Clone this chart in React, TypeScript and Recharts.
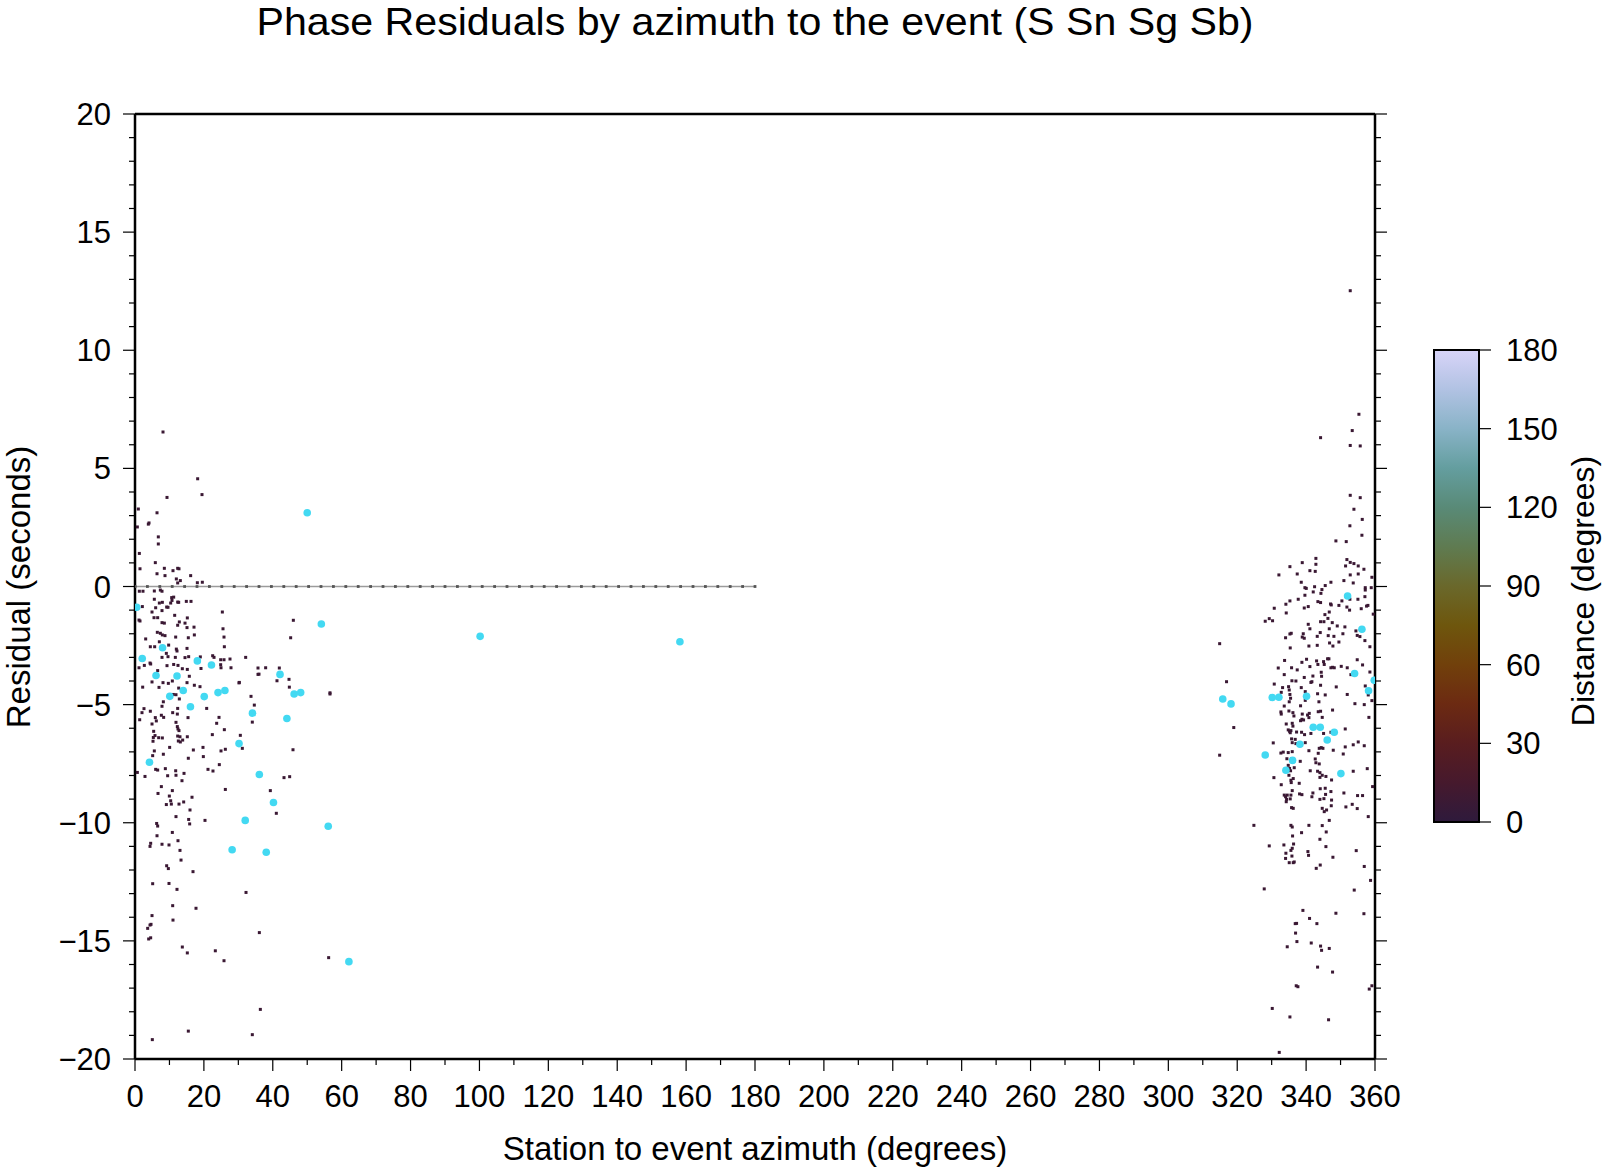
import React from "react";
import { ScatterChart, Scatter, XAxis, YAxis, ReferenceLine } from "recharts";

const FONT = '"Liberation Sans", Arial, Helvetica, sans-serif';
const DARK = "#3a1833";
const CYAN = "#43d9f2";

// axis ticks
const xMajorTicks = [0, 20, 40, 60, 80, 100, 120, 140, 160, 180, 200, 220, 240, 260, 280, 300, 320, 340, 360];
const xTicks = Array.from({ length: 37 }, (_, i) => i * 10);
const yMajorTicks = [-20, -15, -10, -5, 0, 5, 10, 15, 20];
const yTicks = Array.from({ length: 41 }, (_, i) => i - 20);
const cbarTicks = [0, 30, 60, 90, 120, 150, 180];

// colour scale of the distance bar
const cbarStops: [number, string][] = [
  [0, "#2e1a3c"], [15, "#46192d"], [30, "#591d1f"], [45, "#6c2a12"], [60, "#71400b"],
  [75, "#6e560d"], [90, "#6a682b"], [105, "#5f7b51"], [120, "#598a77"], [135, "#649e9f"],
  [150, "#89b3c7"], [165, "#b1c2e3"], [180, "#d8d4f8"],
];

// reference line marks at zero residual
const zeroLineAz = [
  0, 3.6, 7.2, 10.8, 14.4, 18, 21.6, 25.2, 28.8, 32.4, 36, 39.6, 43.2, 46.8, 50.4, 54, 57.6,
  61.2, 64.8, 68.4, 72, 75.6, 79.2, 82.8, 86.4, 90, 93.6, 97.2, 100.8, 104.4, 108, 111.6, 115.2,
  118.8, 122.4, 126, 129.6, 133.2, 136.8, 140.4, 144, 147.6, 151.2, 154.8, 158.4, 162, 165.6,
  169.2, 172.8, 176.4, 180,
];

// [azimuth, residual] for the near stations, west of north
const darkLeft: [number, number][] = [
  [8.13, 6.54], [18.19, 4.56], [19.45, 3.89], [9.29, 3.77], [0.97, 3.28], [6.39, 3.12], [0.68, 2.52],
  [4.07, 2.69], [3.87, 2.64], [6.77, 2.1], [6.77, 1.8], [1.26, 1.4], [1.45, 0.75], [5.9, 1.01],
  [8.52, 0.77], [11.03, 0.67], [12.39, 0.77], [12.77, 0.75], [6.39, 0.54], [8.71, 0.46], [12.0, 0.32],
  [12.39, 0.15], [16.16, 0.46], [18.1, 0.16], [19.55, 0.18], [13.16, 0.25],
  [1.26, -0.2], [2.32, -0.2], [5.61, -0.19], [7.36, -0.15], [7.84, -0.2], [5.61, -0.54], [7.07, -0.7],
  [7.94, -0.67], [10.65, -0.47], [11.23, -0.45], [10.74, -0.59], [10.36, -0.7], [12.39, -0.66],
  [12.68, -0.67], [9.19, -0.87], [9.58, -0.88], [7.84, -1.02], [14.9, -0.63], [16.26, -0.63],
  [2.13, -0.85], [6.0, -0.9], [11.52, -1.22], [4.94, -1.08], [5.52, -1.32], [6.58, -1.32],
  [1.16, -1.42], [1.45, -1.46], [12.87, -1.5], [15.19, -1.33], [12.39, -1.64], [7.84, -1.53],
  [8.52, -1.55], [14.52, -1.55], [17.13, -1.72], [15.1, -1.74], [25.36, -1.08], [25.55, -1.79],
  [25.84, -2.14], [25.94, -2.55], [17.23, -2.05], [15.48, -2.17], [11.81, -2.14], [6.48, -1.94],
  [7.36, -1.98], [7.94, -2.05], [8.71, -2.08], [3.1, -2.22], [4.45, -2.55], [5.71, -2.55],
  [7.07, -2.34], [9.77, -2.48], [12.0, -2.65], [12.19, -2.73], [15.1, -2.62], [9.1, -2.83],
  [7.84, -3.0], [9.58, -2.97], [11.71, -3.0], [14.52, -3.01], [15.58, -2.97], [18.97, -2.98],
  [22.55, -2.93], [22.94, -3.0], [32.13, -3.0], [24.87, -3.1], [25.84, -3.1], [27.58, -3.07],
  [1.16, -3.44], [2.71, -3.34], [4.36, -3.24], [4.55, -3.28], [6.58, -3.56], [9.29, -3.35],
  [11.23, -3.3], [12.48, -3.34], [13.74, -3.48], [15.19, -3.51], [19.16, -3.47], [24.87, -3.31],
  [24.97, -3.44], [27.87, -3.44], [35.71, -3.45], [37.93, -3.44], [41.9, -3.45], [35.71, -3.72],
  [36.0, -3.71], [41.22, -3.99], [44.71, -3.93], [44.81, -4.26], [30.19, -4.08], [45.97, -1.43],
  [45.19, -2.17], [56.61, -4.5], [56.61, -4.55], [33.68, -4.65], [2.23, -4.26], [4.94, -4.04],
  [6.97, -4.27], [8.13, -4.07], [9.68, -4.1], [10.84, -4.0], [12.68, -4.3], [15.77, -3.8],
  [15.1, -4.07], [17.23, -4.18], [18.87, -4.24], [11.13, -4.57], [11.9, -4.58], [12.87, -4.76],
  [1.36, -5.64], [2.03, -5.34], [2.61, -5.17], [4.45, -5.28], [4.94, -5.82], [5.9, -5.55],
  [6.19, -5.69], [5.42, -6.13], [5.81, -6.31], [5.23, -6.55], [5.32, -6.39], [6.87, -6.4],
  [7.94, -6.41], [8.23, -4.88], [7.84, -5.07], [7.65, -5.45], [8.32, -5.54], [10.94, -5.34],
  [12.39, -5.16], [12.29, -5.4], [11.9, -5.75], [12.29, -5.93], [12.48, -6.03], [12.77, -6.1],
  [12.39, -6.33], [13.06, -6.36], [12.58, -6.54], [13.16, -6.58], [13.84, -6.5], [15.39, -5.55],
  [15.19, -6.36], [15.48, -7.27], [10.06, -6.81], [9.48, -8.01], [8.81, -7.71], [6.0, -7.74],
  [6.58, -7.77], [5.61, -6.96], [5.13, -7.16], [8.23, -7.1], [0.68, -7.87], [2.9, -8.04],
  [11.81, -7.8], [11.9, -7.99], [14.23, -7.91], [13.64, -8.22], [7.65, -8.47], [6.68, -8.76],
  [10.84, -8.64], [9.97, -8.87], [10.36, -9.07], [10.55, -9.21], [9.1, -9.23], [12.77, -9.21],
  [14.13, -9.12], [16.55, -8.92], [15.97, -9.46], [11.9, -9.74], [15.58, -9.86], [15.87, -10.05],
  [20.32, -9.9], [16.94, -6.92], [19.74, -6.81], [19.84, -7.2], [20.81, -5.16], [22.45, -6.27],
  [21.19, -7.74], [22.64, -7.81], [24.48, -7.54], [24.97, -6.96], [26.23, -6.89], [24.39, -5.54],
  [23.71, -5.79], [25.94, -6.06], [26.23, -8.59], [30.58, -6.3], [31.16, -6.85], [34.64, -5.02],
  [34.06, -5.74], [39.29, -8.64], [41.03, -9.6], [43.26, -8.09], [44.9, -8.05], [45.87, -6.91],
  [6.29, -10.03], [6.58, -10.14], [6.39, -10.55], [7.84, -10.91], [9.87, -10.94], [10.84, -10.41],
  [12.48, -10.76], [13.06, -11.17], [13.36, -11.58], [4.55, -10.87], [4.36, -11.0], [9.19, -11.82],
  [9.68, -11.94], [5.13, -12.58], [9.87, -12.57], [12.19, -12.82], [16.84, -12.07], [10.94, -13.51],
  [11.03, -14.12], [4.94, -13.93], [4.65, -14.3], [4.36, -14.33], [3.68, -14.47], [3.97, -14.92],
  [4.55, -14.87], [17.71, -13.62], [13.74, -15.26], [15.19, -15.51], [23.32, -15.42], [25.84, -15.84],
  [32.23, -12.95], [36.1, -14.65], [56.22, -15.71], [36.39, -17.9], [34.06, -18.97], [15.48, -18.82],
  [5.03, -19.18], [30.29, -4.06],
];

// [azimuth, residual] for the near stations, east of north
const darkRight: [number, number][] = [
  [352.81, 12.52], [355.33, 7.29], [353.39, 6.6], [344.2, 6.3], [352.81, 5.97], [355.71, 5.95],
  [352.81, 3.86], [355.71, 3.76], [353.88, 3.27], [356.3, 2.84], [352.71, 2.57], [356.2, 2.17],
  [348.65, 1.93], [351.65, 1.9], [342.84, 1.19], [338.88, 1.01], [342.84, 0.94], [335.3, 0.84],
  [351.84, 1.14], [351.46, 0.87], [352.81, 1.02], [353.88, 0.97], [355.13, 0.87], [356.78, 0.73],
  [341.1, 0.67], [342.65, 0.64], [332.1, 0.49], [337.42, 0.53], [352.81, 0.49], [355.13, 0.53],
  [359.1, 0.39], [338.59, 0.18], [347.2, 0.18], [350.97, 0.25], [353.68, 0.15], [345.55, 0.04],
  [357.17, -0.05], [357.17, -0.15], [358.91, -0.05], [339.65, -0.05], [340.04, -0.08], [342.46, -0.01],
  [344.59, -0.13], [344.3, -0.29], [342.07, -0.23], [339.65, -0.37], [334.13, -0.75], [335.3, -0.61],
  [337.71, -0.54], [343.42, -0.64], [344.2, -0.68], [347.1, -0.74], [347.3, -0.78], [349.52, -0.8],
  [350.39, -0.61], [352.71, -0.54], [351.84, -0.87], [352.62, -1.0], [355.04, -0.54], [357.07, -0.43],
  [356.0, -0.94], [357.55, -0.83], [357.94, -0.8], [330.75, -0.92], [339.46, -0.91], [340.62, -0.85],
  [346.72, -1.08], [345.46, -1.19], [346.33, -1.35], [359.49, -1.17], [334.23, -1.12], [328.13, -1.47],
  [329.3, -1.36], [330.26, -1.45], [340.62, -1.6], [341.1, -1.79], [344.2, -1.49], [345.17, -1.49],
  [347.59, -1.53], [349.04, -1.67], [351.26, -1.71], [346.72, -1.79], [335.3, -2.01], [335.68, -1.98],
  [334.04, -2.17], [339.17, -2.0], [338.88, -2.14], [339.46, -2.19], [343.23, -2.11], [344.1, -1.95],
  [346.42, -2.08], [348.07, -2.11], [350.68, -2.0], [354.46, -1.88], [354.84, -2.07], [355.62, -2.12],
  [357.07, -2.29], [358.52, -2.55], [349.52, -2.35], [335.39, -2.6], [340.81, -2.52], [343.23, -2.49],
  [346.81, -2.39], [347.78, -2.52],
  [333.75, -3.13], [331.91, -3.45], [335.78, -3.44], [333.65, -3.73], [337.42, -3.53], [338.78, -3.21],
  [340.13, -3.08], [341.1, -3.39], [343.04, -3.15], [343.42, -3.3], [345.07, -3.18], [345.26, -3.3],
  [346.23, -3.06], [346.62, -3.06], [344.39, -3.63], [344.49, -3.8], [341.97, -3.79], [341.68, -4.03],
  [339.46, -3.85], [347.2, -3.44], [347.68, -3.42], [348.17, -3.44], [350.2, -3.38], [351.94, -3.44],
  [353.0, -3.73], [354.84, -3.1], [356.39, -3.32], [358.52, -3.62], [348.75, -4.25], [351.94, -4.57],
  [357.17, -4.21], [330.75, -4.13], [333.17, -4.28], [332.78, -4.48], [334.91, -4.24], [335.1, -4.38],
  [335.3, -4.57], [335.88, -3.99], [337.04, -4.0], [338.59, -4.28], [339.75, -4.45], [341.39, -4.06],
  [344.2, -4.18], [345.55, -4.59], [343.33, -4.54], [343.72, -4.88], [335.49, -4.73], [335.1, -4.88],
  [333.65, -5.06], [338.39, -5.05], [339.75, -4.82], [354.17, -4.96], [356.88, -5.0], [358.04, -4.59],
  [359.1, -4.83],
  [332.68, -5.31], [332.78, -5.4], [335.01, -5.27], [336.17, -5.34], [336.46, -5.48], [338.88, -5.4],
  [338.78, -5.62], [340.42, -5.44], [340.91, -5.37], [340.81, -5.55], [343.52, -5.3], [344.2, -5.28],
  [344.68, -5.54], [347.68, -5.23], [338.39, -5.68], [339.26, -5.65], [334.23, -5.82], [335.97, -5.79],
  [336.17, -5.91], [334.81, -6.07], [335.2, -6.13], [335.59, -6.1], [335.39, -6.19], [337.23, -6.16],
  [338.68, -6.17], [339.55, -6.27], [341.39, -6.22], [345.07, -6.22], [347.2, -6.17], [351.36, -6.03],
  [335.78, -6.45], [335.97, -6.61], [336.84, -6.47], [337.04, -6.65], [330.46, -6.62], [339.75, -6.61],
  [343.81, -6.85], [344.39, -6.82], [344.88, -6.85], [340.81, -6.95], [347.88, -6.93], [351.36, -6.79],
  [353.68, -6.7], [355.13, -6.58], [356.88, -6.74], [332.68, -7.05], [333.36, -7.01], [334.81, -7.03],
  [335.97, -6.99], [334.42, -7.29], [335.78, -7.29], [338.3, -7.4], [342.84, -7.46], [342.65, -7.3],
  [343.81, -7.51], [343.52, -7.06], [350.78, -7.09], [334.81, -7.57], [335.2, -7.7], [336.55, -7.67],
  [335.49, -7.8], [335.01, -7.99], [341.2, -7.8], [343.33, -7.82], [344.01, -7.88], [344.68, -7.99],
  [344.01, -8.08], [345.75, -8.04], [347.39, -8.19], [353.68, -7.82], [357.75, -7.71], [330.65, -8.09],
  [335.59, -8.2], [335.68, -8.3], [336.26, -8.13], [338.0, -8.33], [332.78, -8.39], [359.3, -8.47],
  [333.65, -8.83], [334.04, -8.9], [334.52, -8.83], [334.33, -9.01], [334.23, -9.11], [335.39, -8.99],
  [335.59, -8.83], [335.97, -8.64], [338.1, -8.78], [338.78, -8.81], [341.68, -8.9], [341.97, -8.74],
  [344.01, -9.01], [345.17, -8.98], [345.65, -8.8], [344.1, -8.56], [345.55, -8.54], [347.2, -8.68],
  [347.39, -9.04], [347.3, -9.28], [350.97, -8.74], [354.94, -8.85], [356.39, -8.85], [335.78, -9.36],
  [336.26, -9.39], [344.68, -9.39], [345.94, -9.46], [345.26, -9.53], [351.55, -9.33], [353.39, -9.22],
  [354.84, -9.4], [346.72, -9.9], [358.04, -9.74], [324.84, -10.11], [335.59, -10.11], [335.97, -10.18],
  [340.81, -10.11], [344.68, -10.12], [345.84, -10.39], [336.07, -10.56], [338.68, -10.42], [344.01, -10.7],
  [329.3, -10.98], [333.55, -10.94], [336.36, -10.9], [335.97, -11.08], [345.75, -11.01], [335.59, -11.17],
  [334.13, -11.29], [334.04, -11.51], [340.52, -11.22], [340.71, -11.38], [335.88, -11.41], [347.78, -11.46],
  [354.55, -11.18], [335.1, -11.69], [336.26, -11.69], [336.55, -11.66], [344.1, -11.79], [342.94, -11.93],
  [356.88, -11.85], [358.23, -5.54],
  [327.84, -12.8], [353.97, -12.85], [358.71, -12.44], [356.78, -13.85], [339.07, -13.71], [341.0, -14.05],
  [343.13, -14.27], [336.84, -14.27], [337.23, -14.26], [348.65, -13.83], [336.94, -14.67], [337.33, -15.03],
  [334.52, -15.25], [341.49, -15.09], [344.2, -15.22], [344.49, -15.4], [346.72, -15.32], [343.33, -16.11],
  [347.68, -16.32], [337.13, -16.9], [337.62, -16.94], [358.33, -17.04], [359.1, -16.9], [330.17, -17.86],
  [335.3, -18.22], [346.52, -18.34], [332.2, -19.72],
  [314.9, -2.42], [316.9, -4.03], [319.0, -5.97], [314.9, -7.14],
];

// [azimuth, residual] for the highlighted stations
const cyanPoints: [number, number][] = [
  [0.5, -0.88], [2.1, -3.05], [4.2, -7.44], [6.1, -3.77], [8.0, -2.59], [10.1, -4.65], [12.2, -3.79],
  [14.0, -4.4], [16.1, -5.09], [18.1, -3.15], [20.1, -4.66], [22.2, -3.32], [24.1, -4.49], [26.1, -4.4],
  [28.2, -11.14], [30.2, -6.65], [32.0, -9.9], [34.1, -5.36], [36.1, -7.96], [38.1, -11.25],
  [40.2, -9.14], [42.1, -3.72], [44.1, -5.59], [46.2, -4.55], [48.1, -4.49], [50.0, 3.12], [54.1, -1.59],
  [56.1, -10.15], [62.1, -15.88], [100.2, -2.11], [158.2, -2.34],
  [315.8, -4.76], [318.2, -4.97], [328.13, -7.13], [330.17, -4.7], [332.1, -4.69], [334.13, -7.78],
  [336.07, -7.36], [338.2, -6.68], [340.13, -4.65], [342.07, -5.96], [344.1, -5.96], [346.13, -6.5],
  [348.17, -6.17], [350.1, -7.92], [352.04, -0.4], [354.07, -3.68], [356.2, -1.81], [358.13, -4.41],
  [359.78, -3.97],
];

const toRows = (pts: [number, number][]) => pts.map(([az, res]) => ({ az, res }));
const darkRows = toRows([...darkLeft, ...darkRight]);
const cyanRows = toRows(cyanPoints);
const zeroRows = zeroLineAz.map((az) => ({ az, res: 0 }));

const fmt = (v: number) => (v < 0 ? "\u2212" + Math.abs(v) : String(v));

const BottomTick = (props: any) => {
  const { x, y, payload } = props;
  const v = payload.value;
  const major = xMajorTicks.includes(v);
  return (
    <g>
      <line x1={x} x2={x} y1={y} y2={y + (major ? 12 : 6)} stroke="#000" strokeWidth={1.2} />
      {major && (
        <text x={x} y={y + 48} textAnchor="middle" fontSize={31} fontFamily={FONT} fill="#000">
          {v}
        </text>
      )}
    </g>
  );
};

const TopTick = (props: any) => {
  const { x, y, payload } = props;
  const major = xMajorTicks.includes(payload.value);
  return <line x1={x} x2={x} y1={y} y2={y - (major ? 12 : 6)} stroke="#000" strokeWidth={1.2} />;
};

const LeftTick = (props: any) => {
  const { x, y, payload } = props;
  const v = payload.value;
  const major = yMajorTicks.includes(v);
  return (
    <g>
      <line x1={x} x2={x - (major ? 12 : 6)} y1={y} y2={y} stroke="#000" strokeWidth={1.2} />
      {major && (
        <text x={x - 24} y={y + 11} textAnchor="end" fontSize={31} fontFamily={FONT} fill="#000">
          {fmt(v)}
        </text>
      )}
    </g>
  );
};

const RightTick = (props: any) => {
  const { x, y, payload } = props;
  const major = yMajorTicks.includes(payload.value);
  return <line x1={x} x2={x + (major ? 12 : 6)} y1={y} y2={y} stroke="#000" strokeWidth={1.2} />;
};

const DarkDot = (p: any) => <rect x={p.cx - 1.5} y={p.cy - 1.5} width={3} height={3} fill={DARK} />;
const CyanDot = (p: any) => <circle cx={p.cx} cy={p.cy} r={3.8} fill={CYAN} />;
const ZeroDot = (p: any) => <rect x={p.cx - 1.4} y={p.cy - 1.4} width={2.8} height={2.8} fill="#555" />;

// the chart fills the whole window (body margin removed below)
const W = 1607;
const H = 1169;
const axisLine = { stroke: "#000", strokeWidth: 2.5 };

// colour bar geometry
const cb = { x: 1434, y: 350, w: 45, h: 472 };

export default function App() {
  const cbY = (v: number) => cb.y + cb.h - (v / 180) * cb.h;
  return (
    <div style={{ position: "relative", width: W, height: H, overflow: "hidden" }}>
      <style>{"body{margin:0}"}</style>
      <ScatterChart width={W} height={H} margin={{ top: 94, right: 212, bottom: 50, left: 75 }}>
        <XAxis
          xAxisId="b"
          type="number"
          dataKey="az"
          domain={[0, 360]}
          ticks={xTicks}
          interval={0}
          tick={BottomTick}
          tickLine={false}
          tickSize={0}
          tickMargin={0}
          axisLine={axisLine}
          height={60}
          allowDataOverflow
        />
        <XAxis
          xAxisId="t"
          orientation="top"
          type="number"
          domain={[0, 360]}
          ticks={xTicks}
          interval={0}
          tick={TopTick}
          tickLine={false}
          tickSize={0}
          tickMargin={0}
          axisLine={axisLine}
          height={20}
          allowDataOverflow
        />
        <YAxis
          yAxisId="l"
          type="number"
          dataKey="res"
          domain={[-20, 20]}
          ticks={yTicks}
          interval={0}
          tick={LeftTick}
          tickLine={false}
          tickSize={0}
          tickMargin={0}
          axisLine={axisLine}
          width={60}
          allowDataOverflow
        />
        <YAxis
          yAxisId="r"
          orientation="right"
          type="number"
          domain={[-20, 20]}
          ticks={yTicks}
          interval={0}
          tick={RightTick}
          tickLine={false}
          tickSize={0}
          tickMargin={0}
          axisLine={axisLine}
          width={20}
          allowDataOverflow
        />
        <ReferenceLine
          xAxisId="b"
          yAxisId="l"
          segment={[{ x: 0, y: 0 }, { x: 180, y: 0 }]}
          stroke="#9b9b9b"
          strokeWidth={1.5}
        />
        <Scatter xAxisId="b" yAxisId="l" data={zeroRows} shape={ZeroDot} isAnimationActive={false} />
        <Scatter xAxisId="b" yAxisId="l" data={darkRows} shape={DarkDot} isAnimationActive={false} />
        <Scatter xAxisId="b" yAxisId="l" data={cyanRows} shape={CyanDot} isAnimationActive={false} />
      </ScatterChart>
      <svg
        width={W}
        height={H}
        style={{ position: "absolute", left: 0, top: 0, pointerEvents: "none" }}
        fontFamily={FONT}
      >
        <defs>
          <linearGradient id="cbar" x1="0" y1="1" x2="0" y2="0">
            {cbarStops.map(([v, c]) => (
              <stop key={v} offset={v / 180} stopColor={c} />
            ))}
          </linearGradient>
        </defs>
        <text x={755} y={35} textAnchor="middle" fontSize={39} fill="#000" textLength={997} lengthAdjust="spacingAndGlyphs">
          Phase Residuals by azimuth to the event (S Sn Sg Sb)
        </text>
        <text x={755} y={1160} textAnchor="middle" fontSize={33} fill="#000">
          Station to event azimuth (degrees)
        </text>
        <text x={30} y={587} textAnchor="middle" fontSize={33} fill="#000" transform="rotate(-90 30 587)">
          Residual (seconds)
        </text>
        <rect x={cb.x} y={cb.y} width={cb.w} height={cb.h} fill="url(#cbar)" stroke="#000" strokeWidth={2} />
        {cbarTicks.map((v) => (
          <g key={v}>
            <line x1={cb.x + cb.w} x2={cb.x + cb.w + 12} y1={cbY(v)} y2={cbY(v)} stroke="#000" strokeWidth={1.2} />
            <text x={cb.x + cb.w + 27} y={cbY(v) + 11} fontSize={31} fill="#000">
              {v}
            </text>
          </g>
        ))}
        <text x={1594} y={591} textAnchor="middle" fontSize={32} fill="#000" transform="rotate(-90 1594 591)">
          Distance (degrees)
        </text>
      </svg>
    </div>
  );
}
